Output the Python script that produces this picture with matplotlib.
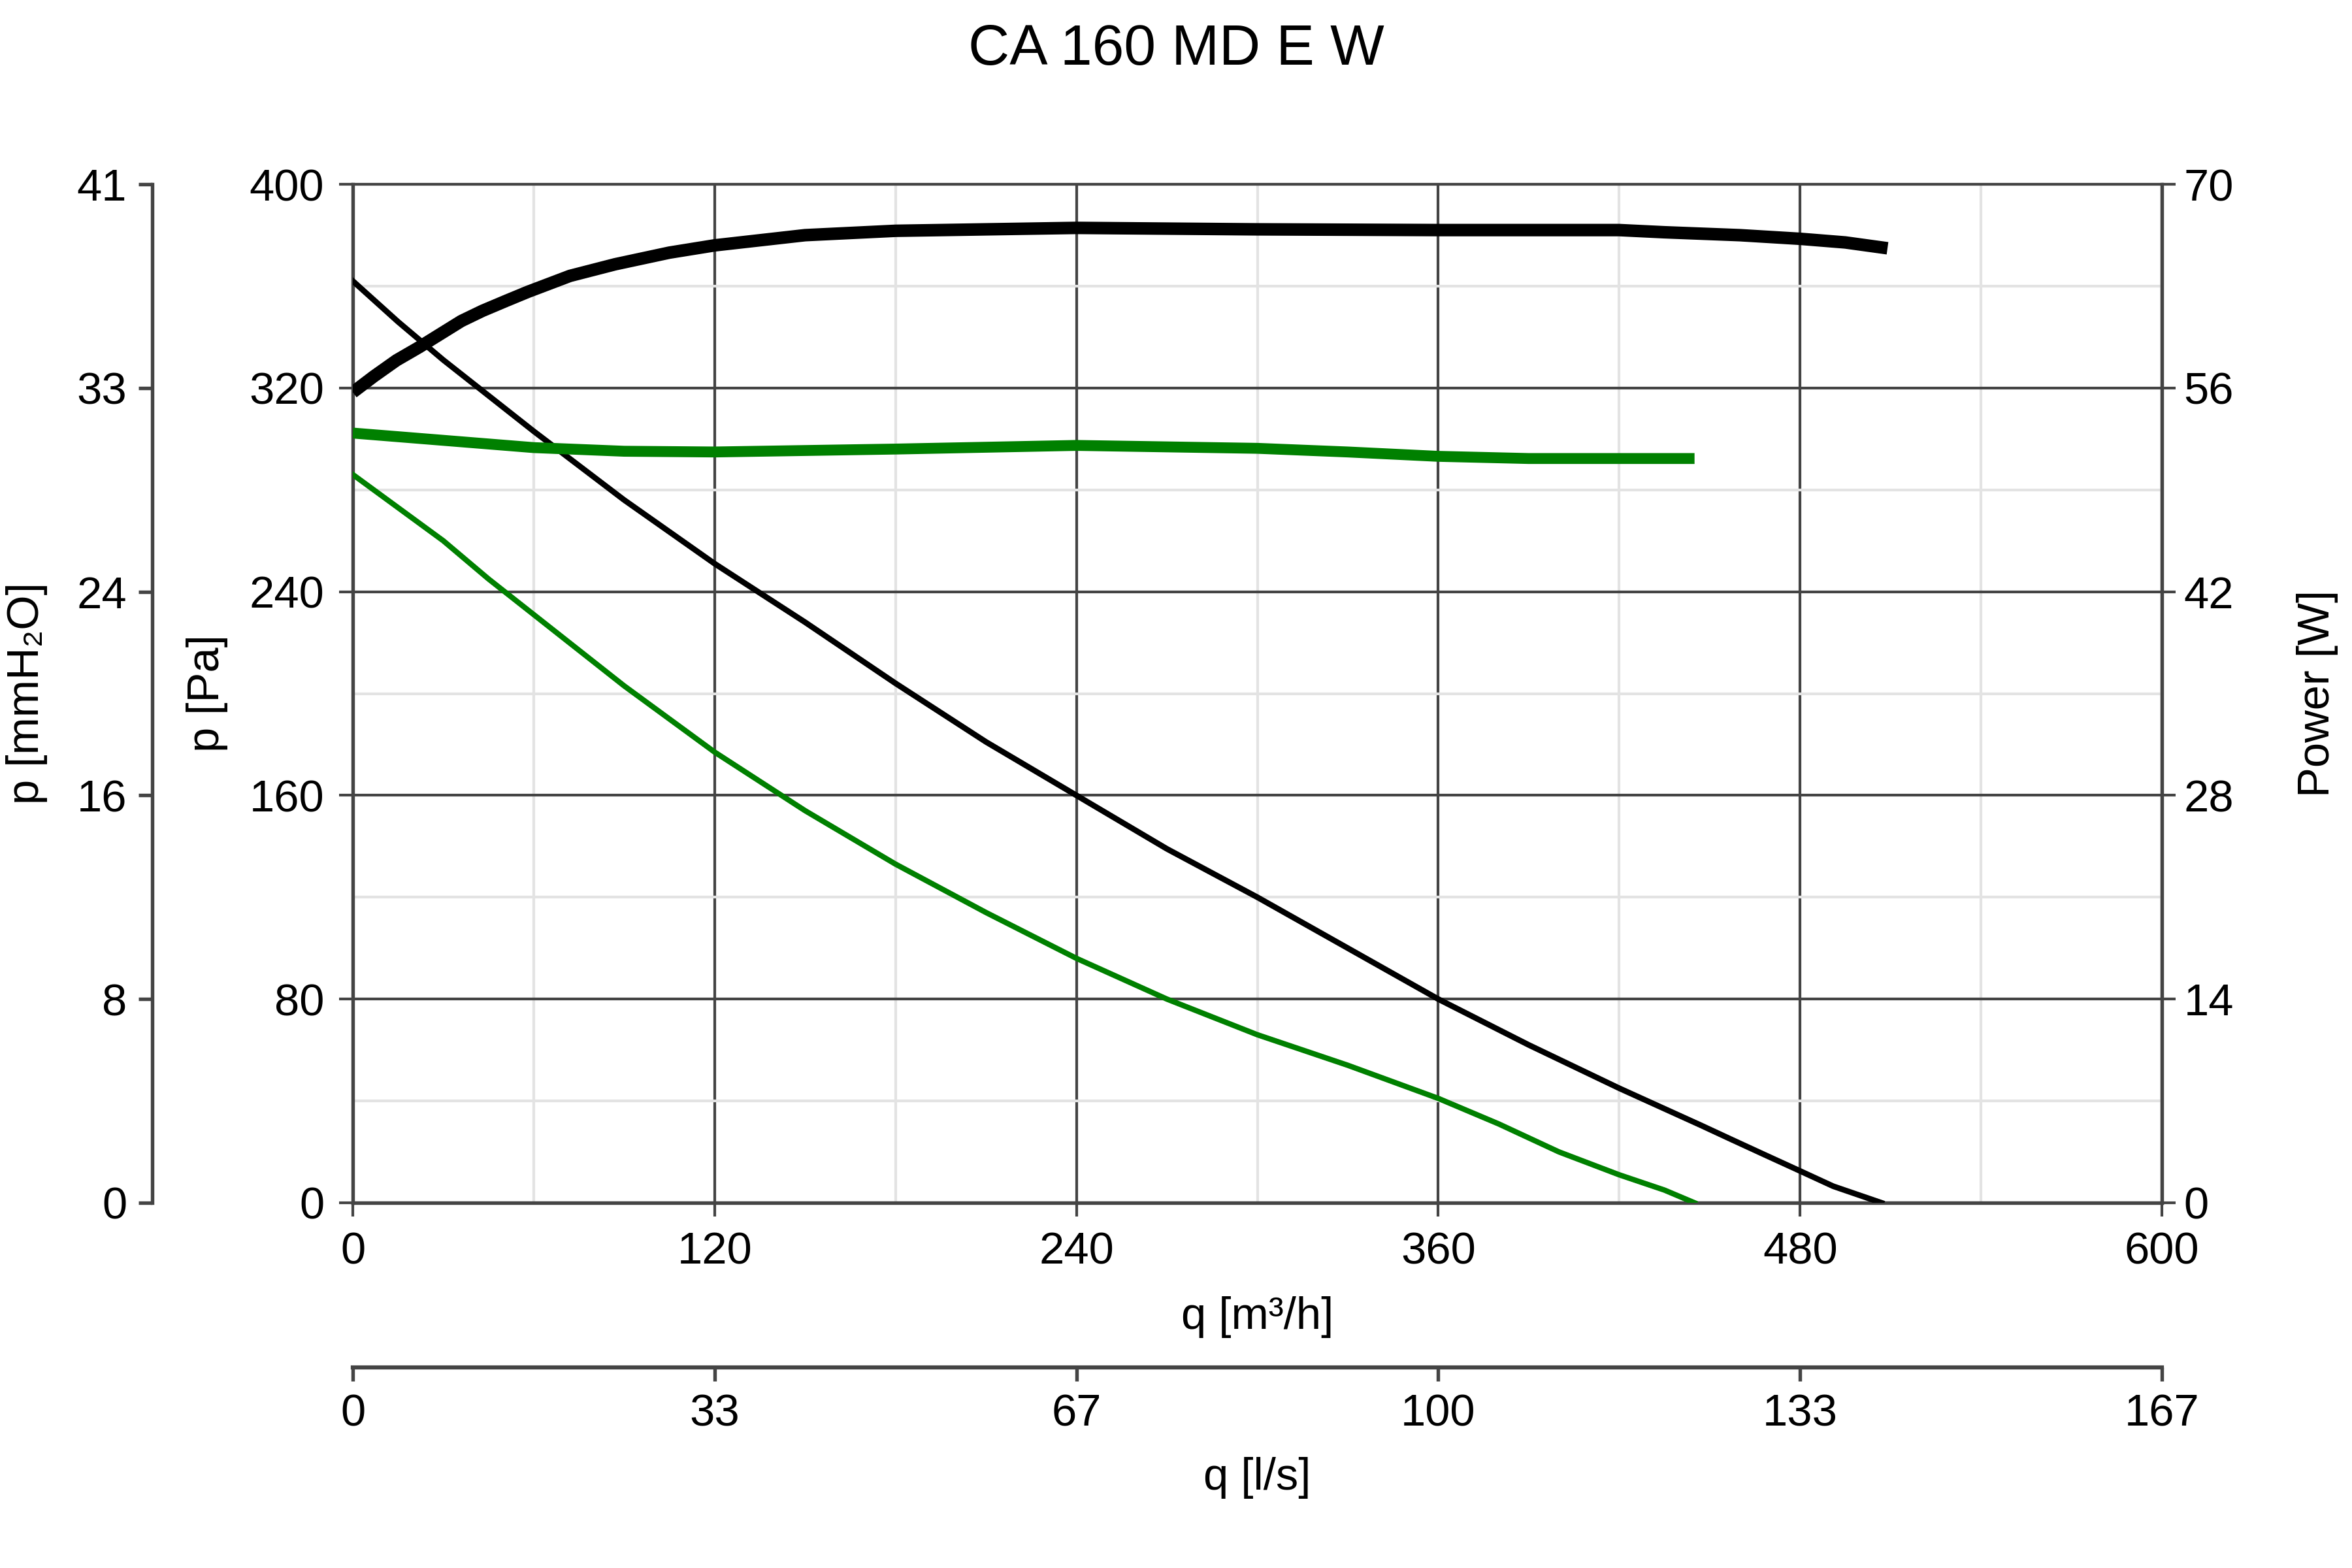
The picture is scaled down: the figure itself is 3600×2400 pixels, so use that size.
import matplotlib
matplotlib.use("Agg")
import matplotlib.pyplot as plt
from matplotlib.ticker import MultipleLocator

plt.rcParams['font.family'] = ['Liberation Sans', 'DejaVu Sans']

# ---------------- data ----------------
title = "CA 160 MD E W"

# high speed pressure curve (Pa)
q_p_high = [0, 15, 30, 45, 60, 90, 120, 150, 180, 210, 240, 270, 300, 330, 360, 390, 420, 447, 457, 468, 480, 491, 507]
p_high   = [362, 346, 331, 317, 303, 276, 251, 228, 204, 181, 160, 139, 120, 100, 80, 62, 45, 30.5, 25, 19, 12.5, 6.5, 0]

# low speed pressure curve (Pa)
q_p_low = [0, 15, 30, 45, 60, 90, 120, 150, 180, 210, 240, 270, 300, 330, 360, 380, 400, 420, 435, 445]
p_low   = [286, 273, 260, 245, 231, 203, 177, 154, 133, 114, 96, 80, 66, 54, 41, 31, 20, 11, 5, 0]

# high speed power curve (W)
q_w_high = [0, 7, 14.5, 22, 29, 36, 43, 51, 58, 72, 87, 105, 120, 150, 180, 240, 300, 360, 420, 435, 460, 480, 495, 509]
w_high   = [55.7, 56.8, 57.9, 58.8, 59.7, 60.6, 61.3, 62.0, 62.6, 63.7, 64.5, 65.3, 65.8, 66.5, 66.8, 67.0, 66.9, 66.85, 66.85, 66.7, 66.5, 66.25, 66.0, 65.6]

# low speed power curve (W)
q_w_low = [0, 30, 60, 90, 120, 180, 240, 300, 330, 360, 390, 445]
w_low   = [52.9, 52.4, 51.9, 51.65, 51.6, 51.8, 52.05, 51.85, 51.6, 51.3, 51.15, 51.15]

x_ticks = [0, 120, 240, 360, 480, 600]
x_ls_labels = ["0", "33", "67", "100", "133", "167"]
pa_ticks = [0, 80, 160, 240, 320, 400]
mm_labels = ["0", "8", "16", "24", "33", "41"]
w_ticks = [0, 14, 28, 42, 56, 70]

# ---------------- style ----------------
DARK = "#444444"
LIGHT = "#e3e3e3"
FS = 16.5
fig = plt.figure(figsize=(12, 8), dpi=300)
L, R = 540 / 3600, 3309 / 3600
B, T = 1 - 1841 / 2400, 1 - 282 / 2400
ax = fig.add_axes([L, B, R - L, T - B])

ax.set_xlim(0, 600)
ax.set_ylim(0, 400)
ax.set_xticks(x_ticks)
ax.set_yticks(pa_ticks)
ax.xaxis.set_minor_locator(MultipleLocator(60))
ax.yaxis.set_minor_locator(MultipleLocator(40))
ax.grid(True, which='minor', color=LIGHT, lw=1.0)
ax.grid(True, which='major', color=DARK, lw=1.0)
ax.set_axisbelow(True)
ax.tick_params(which='minor', length=0)
ax.tick_params(which='major', direction='out', length=5, width=1.0, color=DARK,
               labelsize=FS, pad=5.5)
for s in ax.spines.values():
    s.set_color(DARK)
    s.set_linewidth(1.3)
ax.spines['top'].set_linewidth(1.0)

ax.plot(q_p_high, p_high, color='black', lw=2.1, solid_joinstyle='round', zorder=3)
ax.plot(q_p_low, p_low, color='#008000', lw=2.0, solid_joinstyle='round', zorder=3)

# right power axis
ax_r = ax.twinx()
ax_r.set_ylim(0, 70)
ax_r.set_yticks(w_ticks)
ax_r.tick_params(direction='out', length=5, width=1.0, color=DARK, labelsize=FS, pad=3)
for s in ax_r.spines.values():
    s.set_visible(False)
ax_r.plot(q_w_high, w_high, color='black', lw=4.6, solid_capstyle='butt', solid_joinstyle='round', zorder=4)
ax_r.plot(q_w_low, w_low, color='#008000', lw=4.0, solid_capstyle='butt', solid_joinstyle='round', zorder=4)

# left mmH2O axis
ax_m = ax.twinx()
ax_m.set_ylim(0, 400)
ax_m.yaxis.set_ticks_position('left')
ax_m.yaxis.set_label_position('left')
for k, s in ax_m.spines.items():
    s.set_visible(k == 'left')
ax_m.spines['left'].set_position(('axes', (233 - 540) / 2769))
ax_m.spines['left'].set_color(DARK)
ax_m.spines['left'].set_linewidth(1.3)
ax_m.set_yticks(pa_ticks, labels=mm_labels)
ax_m.tick_params(direction='out', length=5, width=1.3, color=DARK, labelsize=FS, pad=4.3)

# lower l/s axis
ax_l = ax.twiny()
ax_l.set_xlim(0, 600)
ax_l.xaxis.set_ticks_position('bottom')
ax_l.xaxis.set_label_position('bottom')
for k, s in ax_l.spines.items():
    s.set_visible(k == 'bottom')
ax_l.spines['bottom'].set_position(('axes', -(2093 - 1841) / 1559))
ax_l.spines['bottom'].set_color(DARK)
ax_l.spines['bottom'].set_linewidth(1.5)
ax_l.set_xticks(x_ticks, labels=x_ls_labels)
ax_l.tick_params(direction='out', length=5, width=1.3, color=DARK, labelsize=FS, pad=4.5)

# labels
fig.text(0.5, 1 - 76 / 2400, title, ha='center', va='center', fontsize=21)
cx = (540 + 3309) / 2 / 3600
cy = 1 - 1061 / 2400
fig.text(cx, 1 - 2016 / 2400, "q [m³/h]", ha='center', va='center', fontsize=FS)
fig.text(cx, 1 - 2262 / 2400, "q [l/s]", ha='center', va='center', fontsize=FS)
fig.text(317 / 3600, cy, "p [Pa]", ha='center', va='center', rotation=90, fontsize=FS)
fig.text(41 / 3600, cy, "p [mmH₂O]", ha='center', va='center', rotation=90, fontsize=FS)
fig.text(3547 / 3600, cy, "Power [W]", ha='center', va='center', rotation=90, fontsize=FS)

fig.savefig("out.png", dpi=300, facecolor='white')
